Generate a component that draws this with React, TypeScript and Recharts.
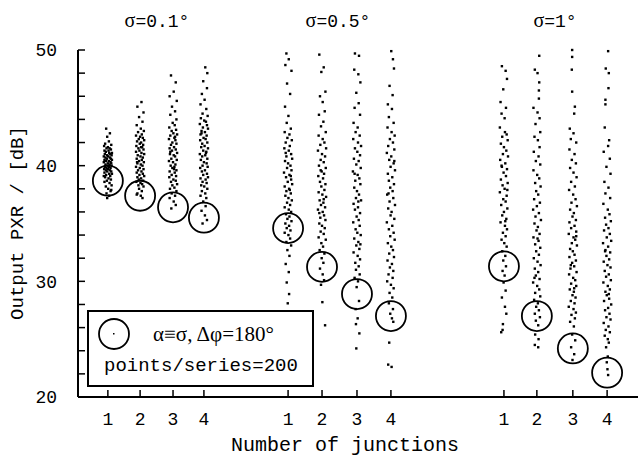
import { ScatterChart, Scatter, XAxis, YAxis } from 'recharts'

// x position of each series (junction units along the axis)
const seriesX = [0.88, 1.83, 2.8, 3.71, 6.19, 7.19, 8.22, 9.22, 12.55, 13.52, 14.58, 15.59]
const tickLabels = ['1', '2', '3', '4', '1', '2', '3', '4', '1', '2', '3', '4']
const groupLabels = ['0.1°', '0.5°', '1°']
const yTicks = [20, 22, 24, 26, 28, 30, 32, 34, 36, 38, 40, 42, 44, 46, 48, 50]

// α≡σ, Δφ=180° worst case, one per series
const worstCase = [38.7, 37.4, 36.4, 35.5, 34.6, 31.25, 28.9, 27.0, 31.3, 27.0, 24.2, 22.1]

// [dx, PXR dB] samples read from the clouds
const s1: [number, number][] = [[-.05,43.2],[.06,42.8],[-.02,42.5],[.03,42.1],[-.08,41.9],[.1,41.8],[-.11,41.7],[0,41.6],[.05,41.5],[-.04,41.5],[.09,41.4],[-.1,41.3],[.02,41.3],[-.06,41.2],[.12,41.1],[.04,41.1],[-.09,41],[.07,41],[-.02,40.9],[.11,40.9],[-.12,40.8],[.01,40.8],[.06,40.7],[-.07,40.7],[.09,40.6],[-.03,40.6],[.12,40.5],[-.1,40.5],[.03,40.4],[-.05,40.4],[.08,40.3],[-.12,40.3],[0,40.2],[.1,40.2],[-.07,40.1],[.05,40.1],[-.01,40],[.11,40],[-.09,39.9],[.03,39.9],[-.04,39.8],[.08,39.8],[-.11,39.7],[.01,39.7],[.06,39.6],[-.06,39.6],[.1,39.5],[-.02,39.5],[-.1,39.4],[.04,39.3],[.12,39.3],[-.05,39.2],[.07,39.1],[-.08,39],[.02,38.9],[.09,38.8],[-.03,38.7],[-.1,38.6],[.05,38.5],[.11,38.3],[-.06,38.2],[.01,38],[.08,37.8],[-.04,37.6],[.04,37.4],[-.02,37.2],[.1,37.9],[-.12,39.1]]
const s2: [number, number][] = [[.04,45.5],[-.08,45.1],[.1,44.6],[-.03,44.2],[.07,43.8],[-.1,43.5],[.02,43.2],[.11,43],[-.06,42.9],[.05,42.7],[-.12,42.6],[0,42.5],[.08,42.4],[-.04,42.3],[.12,42.2],[-.09,42.1],[.03,42],[-.01,41.9],[.09,41.8],[-.11,41.7],[.06,41.6],[-.05,41.5],[.1,41.4],[-.02,41.3],[-.12,41.2],[.04,41.1],[.12,41],[-.07,40.9],[.01,40.8],[.08,40.7],[-.1,40.6],[.05,40.5],[-.03,40.4],[.11,40.3],[-.08,40.2],[.02,40.1],[.07,40],[-.12,39.9],[-.01,39.8],[.1,39.7],[-.06,39.6],[.04,39.5],[-.1,39.4],[.08,39.3],[-.02,39.2],[.12,39.1],[-.08,39],[.03,38.9],[-.04,38.8],[.09,38.7],[-.11,38.6],[.01,38.5],[.06,38.4],[-.05,38.3],[.1,38.2],[-.03,38],[.05,37.8],[-.08,37.6],[.02,37.4],[.07,37.2],[-.1,37.5],[.03,41.6],[-.09,40.3]]
const s3: [number, number][] = [[-.06,47.8],[.08,47.2],[.02,46.4],[-.1,46],[.11,45.6],[-.03,45.1],[.06,44.7],[-.08,44.4],[.1,44],[-.01,43.7],[.05,43.5],[-.11,43.3],[.09,43.1],[-.04,43],[.01,42.8],[.12,42.7],[-.08,42.6],[.04,42.4],[-.12,42.3],[.07,42.2],[-.02,42],[.1,41.9],[-.06,41.8],[.03,41.6],[-.1,41.5],[.08,41.4],[-.03,41.3],[.12,41.1],[-.09,41],[.02,40.9],[.06,40.8],[-.05,40.6],[.11,40.5],[-.12,40.4],[0,40.3],[.07,40.1],[-.07,40],[.04,39.9],[-.02,39.8],[.1,39.6],[-.1,39.5],[.05,39.4],[-.04,39.2],[.09,39.1],[-.11,39],[.01,38.8],[.08,38.7],[-.06,38.6],[.12,38.4],[-.02,38.3],[.04,38.1],[-.09,38],[.1,37.8],[-.04,37.6],[.06,37.4],[-.1,37.2],[.02,36.9],[.08,36.6],[-.05,36.3],[.03,39.7],[-.08,41.2],[.06,42.5]]
const s4: [number, number][] = [[.04,48.5],[.1,48],[-.02,47.3],[.09,46.7],[-.06,46.2],[.02,45.7],[-.1,45.3],[.07,44.9],[-.04,44.5],[.11,44.3],[-.09,44.1],[.01,43.9],[.06,43.8],[-.12,43.6],[.09,43.5],[-.03,43.3],[.12,43.2],[-.07,43],[.03,42.9],[-.1,42.7],[.08,42.6],[-.01,42.4],[.05,42.3],[-.11,42.2],[.1,42],[-.05,41.9],[.02,41.7],[-.08,41.6],[.12,41.5],[-.02,41.3],[.07,41.2],[-.12,41],[.04,40.9],[-.05,40.8],[.1,40.6],[-.09,40.5],[0,40.3],[.08,40.2],[-.04,40],[.11,39.9],[-.11,39.8],[.03,39.6],[-.06,39.5],[.09,39.3],[-.02,39.2],[.12,39],[-.1,38.9],[.05,38.8],[-.04,38.6],[.08,38.5],[-.08,38.3],[.01,38.2],[.1,38],[-.06,37.8],[.04,37.6],[-.1,37.4],[.07,37.2],[-.02,36.9],[.05,36.5],[-.07,36.1],[.03,35.7],[.09,35.3],[-.04,35],[.06,41.1],[-.07,42.8]]
const s5: [number, number][] = [[-.05,49.7],[.02,49.2],[-.08,48.7],[.1,48.2],[-.03,47.1],[.06,46.2],[-.09,45.1],[.01,44.3],[-.04,43.7],[.08,43.2],[-.1,42.9],[.04,42.7],[-.02,42.4],[.11,42.2],[-.07,42],[.05,41.7],[-.11,41.5],[.02,41.3],[.09,41],[-.05,40.8],[.12,40.6],[-.09,40.4],[0,40.2],[.07,40],[-.03,39.8],[.1,39.6],[-.12,39.4],[.04,39.2],[-.06,39],[.09,38.8],[-.01,38.6],[.12,38.4],[-.1,38.2],[.03,38],[-.05,37.8],[.08,37.6],[-.08,37.4],[.01,37.2],[.11,37],[-.03,36.8],[.06,36.6],[-.1,36.4],[.02,36.2],[.09,36],[-.06,35.8],[.04,35.6],[-.02,35.4],[.1,35.2],[-.08,35],[.03,34.8],[-.04,34.6],[.07,34.4],[-.1,34.2],[.01,34],[.06,33.7],[-.05,33.4],[.09,33.1],[-.02,32.7],[.04,32.2],[-.07,31.5],[.02,30.8],[-.04,29.9],[.03,28.9],[-.01,28.1],[.08,39.1],[-.07,41.1],[.05,37.9]]
const s6: [number, number][] = [[-.08,49.6],[.05,48.5],[-.02,48.1],[.1,46.4],[-.06,46],[.02,45.5],[.08,44.7],[-.09,44.4],[.04,43.8],[-.03,43.4],[.11,42.9],[-.1,42.6],[.02,42.3],[.07,42],[-.05,41.8],[.12,41.5],[-.12,41.3],[0,41],[.09,40.8],[-.04,40.5],[.05,40.3],[-.09,40],[.11,39.8],[-.01,39.5],[.06,39.3],[-.11,39.1],[.03,38.9],[-.06,38.6],[.1,38.4],[-.02,38.2],[.07,37.9],[-.1,37.7],[.01,37.5],[.12,37.3],[-.07,37],[.04,36.8],[-.03,36.6],[.09,36.4],[-.12,36.2],[.02,36],[.06,35.7],[-.05,35.5],[.1,35.3],[-.08,35],[0,34.8],[.08,34.6],[-.04,34.3],[.05,34.1],[-.1,33.8],[.11,33.6],[-.02,33.3],[.03,33],[-.07,32.7],[.07,32.4],[-.01,32],[.04,31.6],[-.06,31.1],[.02,30.6],[.06,30.1],[-.03,29.7],[.01,28.2],[.09,26.2],[-.04,39.6],[.05,37.1],[-.08,35.9]]
const s7: [number, number][] = [[-.06,49.7],[.06,49.5],[-.08,48.3],[.04,47.9],[.1,47.2],[-.02,46.3],[.05,45.4],[-.07,45],[.09,44.4],[-.1,43.7],[.02,43.3],[-.04,42.9],[.08,42.6],[-.11,42.3],[.03,42],[.12,41.7],[-.06,41.5],[.01,41.2],[.09,40.9],[-.09,40.6],[.05,40.4],[-.02,40.1],[.11,39.8],[-.12,39.5],[.02,39.2],[.07,38.9],[-.05,38.7],[.1,38.4],[-.08,38.1],[0,37.8],[.06,37.5],[-.03,37.2],[.12,37],[-.1,36.7],[.03,36.4],[-.06,36.2],[.09,35.9],[-.01,35.6],[.05,35.3],[-.11,35.1],[.08,34.8],[-.04,34.5],[.01,34.2],[.11,34],[-.08,33.7],[.04,33.4],[-.02,33.1],[.07,32.8],[-.1,32.5],[.02,32.2],[.09,31.9],[-.05,31.6],[.05,31.3],[-.03,31],[.08,30.6],[-.07,30.3],[.03,30],[-.01,29.5],[.06,28.3],[-.04,27.6],[.02,26.8],[-.03,26.3],[.07,25.5],[-.02,24.2],[.04,36.9],[-.07,39.3],[.1,33.2]]
const s8: [number, number][] = [[.01,49.9],[.06,49.2],[.09,48.4],[-.04,46.9],[.05,46.1],[-.09,45.3],[.03,44.9],[-.06,44.2],[.08,43.7],[-.1,43.3],[.02,42.9],[.11,42.6],[-.03,42.3],[.06,42],[-.08,41.7],[.1,41.4],[-.12,41.1],[.01,40.8],[-.05,40.5],[.08,40.2],[-.01,39.9],[.12,39.6],[-.09,39.3],[.04,39],[-.06,38.7],[.09,38.4],[-.02,38.1],[.05,37.8],[-.11,37.5],[.07,37.2],[-.04,36.9],[.12,36.6],[-.08,36.3],[.02,36],[-.01,35.7],[.1,35.4],[-.12,35.1],[.04,34.8],[-.06,34.5],[.08,34.2],[-.02,33.9],[.11,33.6],[-.09,33.3],[.01,33],[.06,32.7],[-.05,32.4],[.09,32.1],[-.1,31.8],[.03,31.5],[-.03,31.2],[.07,30.9],[-.07,30.6],[.05,30.3],[-.11,30],[0,29.7],[.08,29.4],[-.04,29],[.04,28.6],[-.06,28.1],[.06,27.6],[-.02,27.2],[.03,26.8],[.07,26.5],[-.05,24.7],[-.08,22.8],[.02,22.6],[.1,40.4],[-.07,37.6]]
const s9: [number, number][] = [[-.06,48.6],[.05,48.2],[.09,47.5],[-.02,46.6],[-.1,45.5],[.06,45],[-.07,44.5],[.02,44.1],[-.12,43.3],[.03,42.9],[.08,42.7],[-.05,42.5],[.11,42.2],[-.09,41.9],[0,41.6],[.07,41.3],[-.03,41],[.12,40.8],[-.11,40.5],[.04,40.2],[-.06,39.9],[.09,39.7],[-.01,39.4],[.06,39.1],[-.09,38.8],[.11,38.5],[-.04,38.3],[.02,38],[-.12,37.7],[.08,37.4],[-.02,37.1],[.05,36.9],[-.08,36.6],[.1,36.3],[0,36],[-.05,35.7],[.07,35.4],[-.1,35.1],[.03,34.8],[.09,34.5],[-.03,34.2],[.05,33.9],[-.07,33.6],[.01,33.3],[.08,33],[-.05,32.6],[.04,32.2],[-.02,31.8],[.06,31.3],[-.04,30.9],[.02,30.5],[-.01,29.9],[.05,29.2],[-.06,28.6],[.03,27.8],[.07,27.2],[-.03,26.3],[-.08,25.6],[-.04,25.8],[.1,37.9],[-.07,40],[.04,35.2]]
const s10: [number, number][] = [[.07,49.5],[-.06,48.3],[.02,48],[.07,47.2],[.06,46.5],[.06,45.8],[-.1,45],[.02,44.6],[.08,44.1],[-.04,43.6],[.1,42.9],[-.07,42.5],[.03,42.2],[.08,41.6],[-.09,41.2],[.05,40.8],[-.03,40.4],[.1,40.1],[-.1,39.6],[.01,39.2],[.07,38.9],[-.05,38.5],[.11,38.2],[-.02,37.8],[.04,37.5],[-.08,37.1],[.09,36.8],[0,36.5],[-.11,36.2],[.06,35.9],[-.04,35.6],[.12,35.3],[-.07,35],[.03,34.7],[-.01,34.4],[.08,34.1],[-.1,33.8],[.05,33.5],[-.05,33.2],[.1,32.9],[-.02,32.6],[.06,32.3],[-.09,32],[.02,31.7],[.11,31.4],[-.06,31.1],[.04,30.8],[-.03,30.5],[.08,30.2],[-.11,29.9],[.01,29.6],[.07,29.3],[-.05,29],[.1,28.7],[-.08,28.4],[.03,28.1],[-.02,27.8],[.06,27.5],[-.06,27.2],[.09,26.9],[-.03,26.6],[.04,26.2],[-.05,25.4],[.05,25],[-.06,24.5],[.04,24.3],[.02,33.7],[-.07,30.3]]
const s11: [number, number][] = [[-.02,50],[-.02,49.4],[-.03,48.3],[-.02,46.4],[.06,45.1],[.04,44.5],[-.09,43.2],[.02,42.8],[-.06,42.3],[.1,42],[-.1,41.4],[.05,41],[-.03,40.5],[.09,40.2],[-.08,39.8],[.02,39.4],[.11,39],[-.05,38.6],[.06,38.2],[-.11,37.9],[.01,37.5],[.08,37.1],[-.04,36.8],[.12,36.5],[-.08,36.2],[.03,35.9],[-.01,35.6],[.09,35.3],[-.1,35.1],[.05,34.8],[-.05,34.6],[.1,34.3],[-.12,34.1],[.02,33.8],[.07,33.6],[-.03,33.3],[.12,33.1],[-.08,32.8],[0,32.6],[.05,32.3],[-.1,32.1],[.09,31.8],[-.02,31.6],[.04,31.3],[-.07,31.1],[.11,30.8],[-.11,30.6],[.01,30.3],[.07,30.1],[-.05,29.8],[.1,29.6],[-.09,29.3],[.03,29.1],[-.01,28.8],[.08,28.6],[-.06,28.3],[.05,28.1],[-.12,27.8],[.02,27.6],[.09,27.3],[-.04,27.1],[.06,26.8],[-.08,26.5],[.03,26.1],[-.02,25.4],[.07,24.9],[-.05,24.3],[.04,23.7],[-.01,23.2],[.1,33.9],[-.06,31.4],[.04,29.4]]
const s12: [number, number][] = [[.03,49.9],[-.04,48.4],[.05,48],[.04,46.7],[-.05,45.7],[-.05,45.3],[-.07,43.3],[.06,42.2],[.03,41.7],[-.1,41.2],[.08,40.6],[-.02,39.9],[.1,39.3],[-.08,38.6],[.04,38.1],[-.05,37.6],[.09,37.2],[-.11,36.7],[.02,36.2],[.07,35.8],[-.06,35.5],[.11,35.2],[-.03,34.9],[.04,34.6],[-.09,34.4],[.08,34.1],[-.01,33.8],[.12,33.5],[-.12,33.3],[.03,33],[-.05,32.7],[.09,32.5],[-.02,32.2],[.06,31.9],[-.1,31.7],[.01,31.4],[.1,31.2],[-.07,30.9],[.05,30.6],[-.03,30.4],[.11,30.1],[-.11,29.9],[.02,29.6],[.08,29.3],[-.05,29.1],[-.01,28.8],[.06,28.5],[-.09,28.3],[.12,28],[.03,27.7],[-.06,27.5],[.07,27.2],[-.02,26.9],[.1,26.7],[-.1,26.4],[.04,26.1],[-.04,25.8],[.08,25.6],[-.07,25.3],[.02,25],[.05,24.7],[-.03,24.3],[.02,23.5],[-.01,23],[.01,22.4],[.03,21.9],[-.06,32.6],[.05,28.9]]

const samples = [s1, s2, s3, s4, s5, s6, s7, s8, s9, s10, s11, s12]

const cloud = samples.flatMap((pts, i) => pts.map(([dx, y]) => ({ x: seriesX[i] + dx, y })))
const circles = worstCase.map((y, i) => ({ x: seriesX[i], y }))

const mono = '"Liberation Mono", "Courier New", monospace'
const serif = '"Liberation Serif", "Times New Roman", serif'
const tickFont = { fontSize: 18, fill: '#000', fontFamily: mono }
const axisStroke = { stroke: '#000', strokeWidth: 2 }
const tickStroke = { stroke: '#000', strokeWidth: 1.5 }

const Dot = (p: any) => <rect x={p.cx - 1.2} y={p.cy - 1.2} width={2.4} height={2.4} fill="#000" />
const Ring = (p: any) => <circle cx={p.cx} cy={p.cy} r={15} fill="none" stroke="#000" strokeWidth={1.8} />

const groupCenters = [157, 338, 555]

export default function App() {
  return (
    <div style={{ position: 'absolute', left: 0, top: 0, width: 640, height: 459, background: '#fff' }}>
      <ScatterChart width={640} height={459} margin={{ top: 50, right: 2, bottom: 32, left: 0 }}>
        <XAxis xAxisId="b" type="number" dataKey="x" domain={[0, 16.5]} ticks={seriesX} height={30}
          tickFormatter={(_v, i) => tickLabels[i]} interval={0}
          tick={tickFont} tickSize={-7} tickMargin={22} tickLine={tickStroke} axisLine={axisStroke} />
        <XAxis xAxisId="t" orientation="top" height={0} type="number" dataKey="x" domain={[0, 16.5]} ticks={seriesX}
          tick={false} tickSize={-7} tickLine={tickStroke} axisLine={axisStroke} />
        <YAxis yAxisId="l" type="number" dataKey="y" domain={[20, 50]} ticks={yTicks} width={78} interval={0}
          tickFormatter={v => (v % 10 === 0 ? String(v) : '')}
          tick={tickFont} tickSize={-7} tickMargin={28} tickLine={tickStroke} axisLine={axisStroke} />
        <YAxis yAxisId="r" orientation="right" width={0} type="number" dataKey="y" domain={[20, 50]} ticks={yTicks} interval={0}
          tick={false} tickSize={-7} tickLine={tickStroke} axisLine={axisStroke} />
        <Scatter xAxisId="b" yAxisId="l" data={cloud} shape={Dot} isAnimationActive={false} />
        <Scatter xAxisId="b" yAxisId="l" data={circles} shape={Ring} isAnimationActive={false} />
      </ScatterChart>

      {groupLabels.map((g, i) => (
        <div key={g} style={{ position: 'absolute', left: groupCenters[i] - 60, width: 120, top: 8, textAlign: 'center', fontSize: 18, lineHeight: '24px' }}>
          <span style={{ fontFamily: serif, fontSize: 20 }}>σ</span>
          <span style={{ fontFamily: mono }}>={g}</span>
        </div>
      ))}

      <div style={{ position: 'absolute', left: 18 - 150, top: 223 - 12, width: 300, textAlign: 'center', lineHeight: '24px',
        fontFamily: mono, fontSize: 19, transform: 'rotate(-90deg)' }}>
        Output PXR / [dB]
      </div>
      <div style={{ position: 'absolute', left: 195, width: 300, top: 434, textAlign: 'center', lineHeight: '24px', fontFamily: mono, fontSize: 20 }}>
        Number of junctions
      </div>

      <div style={{ position: 'absolute', left: 87, top: 310, width: 223, height: 73, border: '2px solid #000', background: '#fff' }}>
        <svg width={50} height={44} style={{ position: 'absolute', left: 8, top: 0 }}>
          <circle cx={17} cy={22} r={15} fill="none" stroke="#000" strokeWidth={1.8} />
          <rect x={16} y={21} width={1.5} height={1.5} fill="#000" />
        </svg>
        <div style={{ position: 'absolute', left: 64, top: 9, fontFamily: serif, fontSize: 21, lineHeight: '26px', whiteSpace: 'nowrap' }}>
          α≡σ, Δφ=180°
        </div>
        <div style={{ position: 'absolute', left: 15, top: 41, fontFamily: mono, fontSize: 19, lineHeight: '26px', whiteSpace: 'nowrap' }}>
          points/series=200
        </div>
      </div>
    </div>
  )
}
